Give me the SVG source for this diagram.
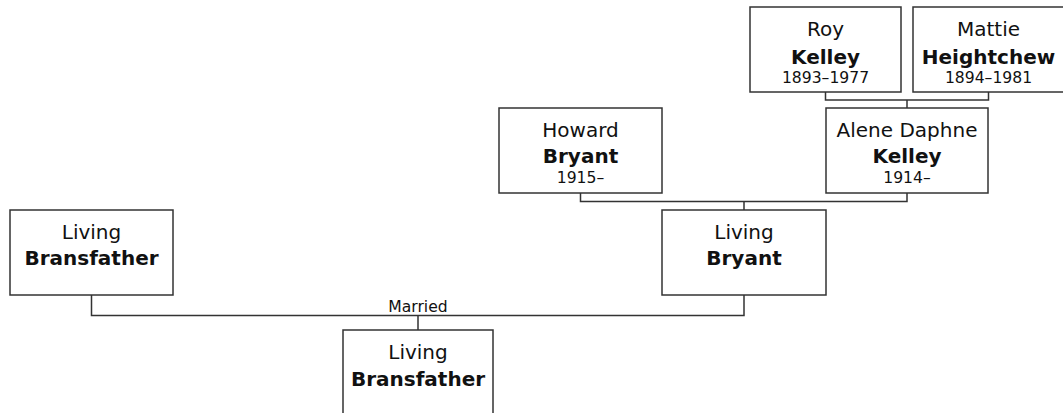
<svg xmlns="http://www.w3.org/2000/svg" width="1063" height="413" viewBox="0 0 1063 413">
<style>
.box{fill:#fff;stroke:#333;stroke-width:1.5}
.ln{fill:none;stroke:#333;stroke-width:1.5}
text{font-family:"DejaVu Sans",Verdana,sans-serif;text-anchor:middle;fill:#111}
.n{font-size:20px}
.b{font-size:20px;font-weight:bold}
.d{font-size:15.6px}
</style>
<rect width="1063" height="413" fill="#fff"/>
<g id="connectors">
<path class="ln" d="M825.5,92V100H988.5V92M907,100V108"/>
<path class="ln" d="M580.5,193V201.5H907V193M744,201.5V210"/>
<path class="ln" d="M91.5,295V315.5H744V295M418,315.5V330"/>
<text class="d" x="418" y="311.5">Married</text>
</g>
<g id="roy">
<rect class="box" x="750" y="7" width="151" height="85"/>
<text class="n" x="825.5" y="36">Roy</text>
<text class="b" x="825.5" y="63.5">Kelley</text>
<text class="d" x="825.5" y="83">1893–1977</text>
</g>
<g id="mattie">
<rect class="box" x="913" y="7" width="151" height="85"/>
<text class="n" x="988.5" y="36">Mattie</text>
<text class="b" x="988.5" y="63.5">Heightchew</text>
<text class="d" x="988.5" y="83">1894–1981</text>
</g>
<g id="howard">
<rect class="box" x="499" y="108" width="163" height="85"/>
<text class="n" x="580.5" y="136.7">Howard</text>
<text class="b" x="580.5" y="163.3">Bryant</text>
<text class="d" x="580.5" y="183.3">1915–</text>
</g>
<g id="alene">
<rect class="box" x="826" y="108" width="162" height="85"/>
<text class="n" x="907" y="136.7">Alene Daphne</text>
<text class="b" x="907" y="163.3">Kelley</text>
<text class="d" x="907" y="183.3">1914–</text>
</g>
<g id="living-bransfather">
<rect class="box" x="10" y="210" width="163" height="85"/>
<text class="n" x="91.5" y="238.7">Living</text>
<text class="b" x="91.5" y="265.3">Bransfather</text>
</g>
<g id="living-bryant">
<rect class="box" x="662" y="210" width="164" height="85"/>
<text class="n" x="744" y="238.7">Living</text>
<text class="b" x="744" y="265.3">Bryant</text>
</g>
<g id="child-bransfather">
<rect class="box" x="343" y="330" width="150" height="90"/>
<text class="n" x="418" y="359">Living</text>
<text class="b" x="418" y="385.5">Bransfather</text>
</g>
</svg>
